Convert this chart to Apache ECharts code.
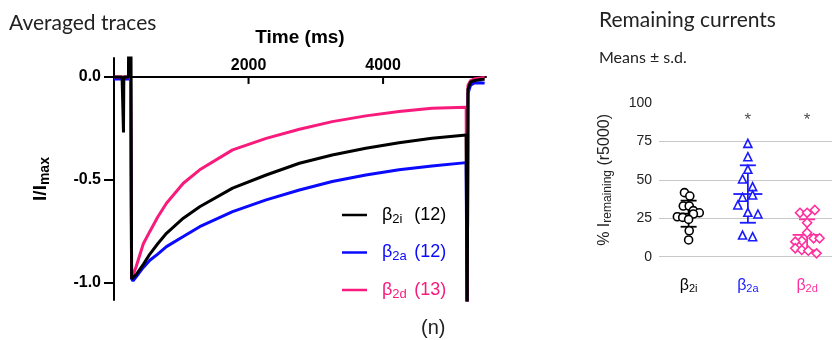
<!DOCTYPE html>
<html>
<head>
<meta charset="utf-8">
<script src="https://cdn.jsdelivr.net/npm/echarts@6/dist/echarts.min.js"></script>
<style>
html, body { margin: 0; padding: 0; background: #fff; }
#chart { width: 832px; height: 340px; }
</style>
</head>
<body>
<div id="chart"></div>
<script>
// averaged traces (I/Imax vs time in ms)
var traceTime = [0, 120, 136, 141, 146, 215, 222, 229, 246, 250, 262, 283, 330, 436, 533, 650, 780, 1030, 1274,
  1763, 2262, 2756, 3244, 3743, 4237, 4726, 5235, 5250, 5262, 5300, 5350, 5450, 5510];
var traceB2i = [0, 0, 0, -0.27, 0, 0, 0.5, 0, 0, 0.5, -0.98, -0.985, -0.96, -0.91, -0.86, -0.81, -0.759, -0.686, -0.63,
  -0.54, -0.476, -0.419, -0.379, -0.346, -0.319, -0.298, -0.282, -1.3, -0.06, -0.025, -0.018, -0.012, -0.011];
var traceB2a = [-0.01, -0.01, -0.01, -0.01, -0.01, -0.01, -0.01, -0.01, -0.01, -0.01, -0.98, -0.99, -0.97, -0.925, -0.89, -0.86, -0.824, -0.775, -0.727,
  -0.654, -0.597, -0.549, -0.508, -0.476, -0.451, -0.432, -0.416, -1.3, -0.08, -0.04, -0.03, -0.028, -0.03];
var traceB2d = [0, 0, 0, 0, 0, 0, 0, 0, 0, 0, -0.98, -0.985, -0.92, -0.81, -0.75, -0.68, -0.613, -0.516, -0.451,
  -0.354, -0.298, -0.254, -0.217, -0.189, -0.168, -0.152, -0.147, -1.3, -0.04, -0.018, -0.01, -0.005, -0.003];
var traceNames = ['β2i', 'β2a', 'β2d'];
var traceCounts = [12, 12, 13];
var timeStep = 2000;
var timeTicks = [2000, 4000];
var ampTicks = [-1, -0.5, 0];

// remaining currents at 5000 ms (%), one array per subunit, with horizontal jitter
var remSub = ['2i', '2a', '2d'];
var b2iValues = [41.7, 39.5, 33, 33, 30, 28.6, 26, 25.6, 27.8, 24.3, 16.9, 10.9];
var b2iJitter = [-0.07, 0.02, -0.09, 0.01, 0.08, 0.18, -0.19, -0.10, 0.08, 0, 0.01, 0];
var b2aValues = [73.8, 65.1, 56.9, 50.6, 45.6, 38.7, 40.2, 33.7, 28.9, 27.8, 14.1, 13];
var b2aJitter = [0, 0, 0, -0.09, 0.08, -0.09, 0.08, -0.17, 0, 0.17, -0.09, 0.08];
var b2dValues = [28.6, 28.6, 30.4, 22.1, 15.6, 10.4, 9.8, 12, 12, 5.5, 4.4, 3.9, 2.2];
var b2dJitter = [-0.12, 0, 0.13, 0, 0, -0.09, -0.2, 0.11, 0.21, -0.2, -0.09, 0.02, 0.16];
var remMeans = [28, 40.8, 14.2];
var remSD = [8.5, 18.7, 10.1];
var starCats = [2, 3];
var starValue = 89;

var traceColors = ['#000000', '#0a0aff', '#f81b7c'];
var remColors = ['#000000', '#1a1aff', '#ff2f9e'];
var ARIAL = "'Liberation Sans', Arial, sans-serif";

function pairs(xs, ys) {
  return xs.map(function (x, i) { return [x, ys[i]]; });
}
function jittered(cat, jit, vals) {
  return vals.map(function (v, i) { return [cat + jit[i], v]; });
}

var chart = echarts.init(document.getElementById('chart'));

var legendRich = { sp: { width: 10 } };
traceColors.forEach(function (c, i) {
  legendRich['b' + i] = { color: c, fontSize: 18, fontFamily: ARIAL };
  legendRich['s' + i] = { color: c, fontSize: 13, fontFamily: ARIAL, width: 22, padding: [8, 0, 0, 0] };
});

var xRich = {};
remColors.forEach(function (c, i) {
  xRich['b' + i] = { color: c, fontSize: 16, fontFamily: ARIAL };
  xRich['s' + i] = { color: c, fontSize: 11, fontFamily: ARIAL, padding: [7, 0, 0, 0] };
});

function traceSeries(i, values) {
  return {
    name: traceNames[i], type: 'line', xAxisIndex: 0, yAxisIndex: 0, symbol: 'none',
    data: pairs(traceTime, values),
    lineStyle: { color: traceColors[i], width: 3 }, itemStyle: { color: traceColors[i] }
  };
}

var option = {
  animation: false,
  textStyle: { fontFamily: ARIAL },
  grid: [
    { left: 114, right: 346, top: 58, bottom: 40 },
    { left: 659, right: 0, top: 103.1, bottom: 83.3 }
  ],
  graphic: [
    { type: 'text', left: 9, top: 13, style: { text: 'Averaged traces', fontFamily: 'Lato', fontSize: 21, fill: '#222' } },
    { type: 'text', left: 599, top: 10, style: { text: 'Remaining currents', fontFamily: 'Lato', fontSize: 21, fill: '#222' } },
    { type: 'text', left: 599, top: 50, style: { text: 'Means ± s.d.', fontFamily: 'Lato', fontSize: 16, fill: '#222' } },
    { type: 'text', left: 421, top: 318, style: { text: '(n)', fontFamily: ARIAL, fontSize: 20, fill: '#222' } }
  ],
  legend: {
    left: 342,
    top: 206,
    padding: 0,
    orient: 'vertical',
    icon: 'rect',
    itemWidth: 25,
    itemHeight: 2.5,
    itemGap: 18,
    data: traceNames,
    formatter: function (name) {
      var i = traceNames.indexOf(name);
      return '{sp|}{b' + i + '|β}{s' + i + '|' + remSub[i] + '}{b' + i + '|(' + traceCounts[i] + ')}';
    },
    textStyle: { rich: legendRich }
  },
  xAxis: [
    {
      type: 'value', gridIndex: 0, min: 0, max: 5530, interval: timeStep, position: 'top', offset: -19,
      name: 'Time (ms)', nameLocation: 'middle', nameGap: 30,
      nameTextStyle: { fontFamily: ARIAL, fontWeight: 'bold', fontSize: 19, color: '#000' },
      axisLine: { onZero: false, lineStyle: { color: '#000', width: 2 } },
      axisTick: { show: false },
      axisLabel: {
        margin: 3, color: '#000', fontFamily: ARIAL, fontWeight: 'bold', fontSize: 16,
        showMinLabel: false, showMaxLabel: false,
        formatter: function (v) { return v === 0 ? '' : String(v); }
      },
      splitLine: { show: false }
    },
    {
      type: 'value', gridIndex: 1, min: 0.5, max: 3.42,
      axisLine: { show: false }, axisTick: { show: false }, splitLine: { show: false },
      axisLabel: {
        customValues: [1, 2, 3], margin: 20,
        formatter: function (v) {
          var i = Math.round(v) - 1;
          return '{b' + i + '|β}{s' + i + '|' + remSub[i] + '}';
        },
        rich: xRich
      }
    }
  ],
  yAxis: [
    {
      type: 'value', gridIndex: 0, min: -1.083, max: 0.092,
      name: '{a|I/I}{b|max}', nameLocation: 'middle', nameRotate: 90, nameGap: 62,
      nameTextStyle: {
        rich: {
          a: { fontFamily: ARIAL, fontWeight: 'bold', fontSize: 19, color: '#000' },
          b: { fontFamily: ARIAL, fontWeight: 'bold', fontSize: 14, color: '#000', padding: [8, 0, 0, 0] }
        }
      },
      axisLine: { show: true, onZero: false, lineStyle: { color: '#000', width: 2 } },
      axisTick: { length: 10, customValues: ampTicks, lineStyle: { color: '#000', width: 2 } },
      axisLabel: {
        customValues: ampTicks, margin: 13, color: '#000', fontFamily: ARIAL, fontWeight: 'bold', fontSize: 16,
        formatter: function (v) { return v.toFixed(1); }
      },
      splitLine: { show: false }
    },
    {
      type: 'value', gridIndex: 1, min: 0, max: 100, interval: 25,
      name: '% I{s|remaining} (r5000)', nameLocation: 'middle', nameRotate: 90, nameGap: 45,
      nameTextStyle: {
        fontFamily: ARIAL, fontSize: 16, color: '#222',
        rich: { s: { fontFamily: ARIAL, fontSize: 12, color: '#222', padding: [7, 0, 0, 0] } }
      },
      axisLine: { show: false }, axisTick: { show: false },
      axisLabel: { margin: 7, color: '#222', fontFamily: ARIAL, fontSize: 14 },
      splitLine: { show: true, showMaxLine: false, lineStyle: { color: '#c8c8c8', width: 1.2 } }
    }
  ],
  series: [
    traceSeries(1, traceB2a),
    traceSeries(2, traceB2d),
    traceSeries(0, traceB2i),
    {
      // short downward ticks on the time axis, placed through the axis scale
      type: 'custom', xAxisIndex: 0, yAxisIndex: 0, silent: true, clip: false,
      data: timeTicks.map(function (t) { return [t, 0]; }),
      renderItem: function (params, api) {
        var p = api.coord([api.value(0), api.value(1)]);
        return { type: 'line', shape: { x1: p[0], y1: p[1], x2: p[0], y2: p[1] + 7 }, style: { stroke: '#000', lineWidth: 2 } };
      }
    },
    {
      type: 'scatter', xAxisIndex: 1, yAxisIndex: 1, symbol: 'circle', symbolSize: 8,
      data: jittered(1, b2iJitter, b2iValues),
      itemStyle: { color: '#fff', borderColor: remColors[0], borderWidth: 1.6, opacity: 1 }
    },
    {
      type: 'scatter', xAxisIndex: 1, yAxisIndex: 1, symbol: 'triangle', symbolSize: 8,
      data: jittered(2, b2aJitter, b2aValues),
      itemStyle: { color: '#fff', borderColor: remColors[1], borderWidth: 1.6, opacity: 1 }
    },
    {
      type: 'scatter', xAxisIndex: 1, yAxisIndex: 1, symbol: 'diamond', symbolSize: 9,
      data: jittered(3, b2dJitter, b2dValues),
      itemStyle: { color: '#fff', borderColor: remColors[2], borderWidth: 1.6, opacity: 1 }
    },
    {
      type: 'custom', xAxisIndex: 1, yAxisIndex: 1,
      data: remMeans.map(function (m, i) { return [i + 1, m, remSD[i]]; }),
      renderItem: function (params, api) {
        var x = api.value(0), m = api.value(1), s = api.value(2);
        var c = api.coord([x, m]);
        var t = api.coord([x, m + s]);
        var b = api.coord([x, m - s]);
        var st = { stroke: remColors[params.dataIndex], lineWidth: 1.8 };
        return {
          type: 'group',
          children: [
            { type: 'line', shape: { x1: c[0] - 14.5, y1: c[1], x2: c[0] + 14.5, y2: c[1] }, style: st },
            { type: 'line', shape: { x1: c[0], y1: t[1], x2: c[0], y2: b[1] }, style: st },
            { type: 'line', shape: { x1: c[0] - 8, y1: t[1], x2: c[0] + 8, y2: t[1] }, style: st },
            { type: 'line', shape: { x1: c[0] - 8, y1: b[1], x2: c[0] + 8, y2: b[1] }, style: st }
          ]
        };
      }
    },
    {
      type: 'scatter', xAxisIndex: 1, yAxisIndex: 1, symbolSize: 1,
      itemStyle: { color: 'rgba(0,0,0,0)' },
      data: starCats.map(function (c) { return [c, starValue]; }),
      label: { show: true, position: 'inside', formatter: '*', color: '#222', fontFamily: ARIAL, fontSize: 17 }
    }
  ]
};

chart.setOption(option);
</script>
</body>
</html>
